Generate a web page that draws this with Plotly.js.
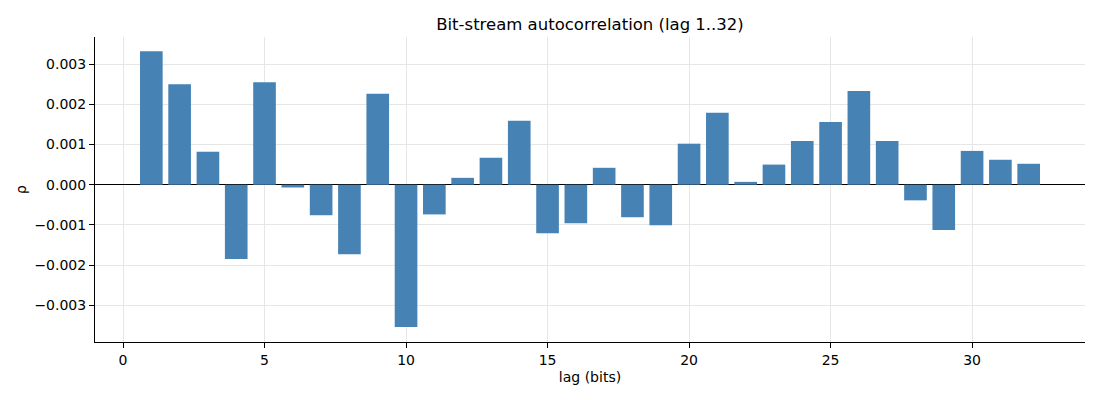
<!DOCTYPE html>
<html>
<head>
<meta charset="utf-8">
<script src="https://cdn.plot.ly/plotly-3.0.1.min.js"></script>
<style>
  html, body { margin: 0; padding: 0; background: #fff; }
  #chart { width: 1100px; height: 400px; }
</style>
</head>
<body>
<div id="chart"></div>
<script>
// lag values
let lags = [];
for (let i = 1; i <= 32; i++) lags.push(i);

let rho = [
    0.00332, 0.00250, 0.00082, -0.00185, 0.00255, -0.00007, -0.00076, -0.00173,
    0.00226, -0.00354, -0.00074, 0.00017, 0.00067, 0.00159, -0.00121, -0.00096,
    0.00042, -0.00081, -0.00101, 0.00102, 0.00179, 0.00007, 0.00050, 0.00109,
    0.00156, 0.00233, 0.00109, -0.00039, -0.00113, 0.00084, 0.00062, 0.00052
];

let xTicks = [0, 5, 10, 15, 20, 25, 30];
let yTicks = [-0.003, -0.002, -0.001, 0, 0.001, 0.002, 0.003];

let font = 'DejaVu Sans, sans-serif';

let trace = {
    type: 'bar',
    x: lags,
    y: rho,
    marker: {color: '#4682b4', line: {width: 0}},
    hoverinfo: 'x+y'
};

let layout = {
    width: 1100,
    height: 400,
    margin: {l: 95, r: 15, t: 37, b: 58},
    paper_bgcolor: '#fff',
    plot_bgcolor: '#fff',
    bargap: 0.2,
    showlegend: false,
    font: {family: font, size: 14, color: '#000'},
    title: {
        text: 'Bit-stream autocorrelation (lag 1..32)',
        font: {family: font, size: 16.5, color: '#000'},
        xref: 'paper', x: 0.5, xanchor: 'center',
        y: 0.94, yanchor: 'middle'
    },
    xaxis: {
        range: [-0.99, 33.99],
        tickvals: xTicks,
        ticktext: xTicks.map(String),
        showgrid: true,
        gridcolor: '#e6e6e6',
        gridwidth: 1,
        zeroline: false,
        showline: true,
        linecolor: '#000',
        linewidth: 1,
        ticks: 'outside',
        ticklen: 5,
        tickcolor: '#000',
        tickfont: {family: font, size: 14},
        title: {text: 'lag (bits)', font: {family: font, size: 14}, standoff: 5}
    },
    yaxis: {
        range: [-0.003915, 0.003675],
        tickvals: yTicks,
        tickformat: '.3f',
        showgrid: true,
        gridcolor: '#e6e6e6',
        gridwidth: 1,
        zeroline: true,
        zerolinecolor: '#000',
        zerolinewidth: 1,
        showline: true,
        linecolor: '#000',
        linewidth: 1,
        ticks: 'outside',
        ticklen: 5,
        tickcolor: '#000',
        tickfont: {family: font, size: 14},
        title: {text: 'ρ', font: {family: font, size: 14}, standoff: 4}
    }
};

Plotly.newPlot('chart', [trace], layout, {displayModeBar: false, staticPlot: true});
</script>
</body>
</html>
